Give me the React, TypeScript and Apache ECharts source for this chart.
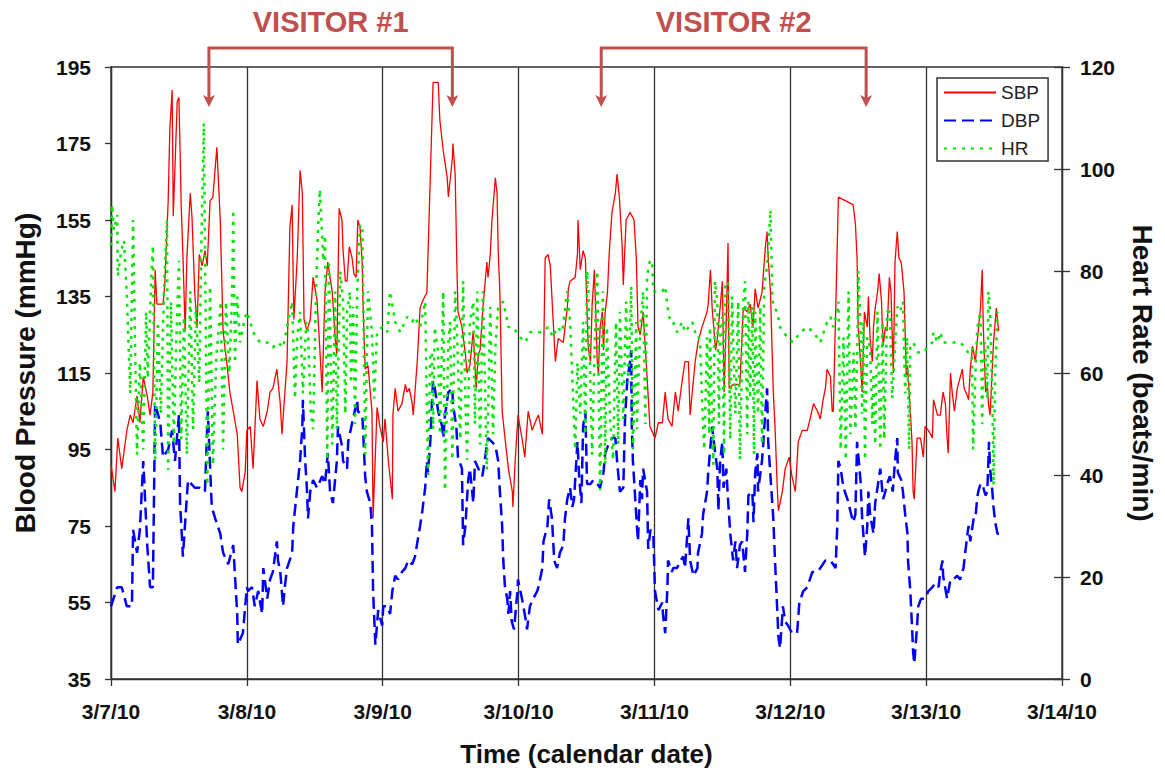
import React, { useEffect, useRef } from "react";
import * as echarts from "echarts";

// Time is in hours since midnight, 3/7/10.
const dateLabels = ["3/7/10", "3/8/10", "3/9/10", "3/10/10", "3/11/10", "3/12/10", "3/13/10", "3/14/10"];
const bpTicks = [35, 55, 75, 95, 115, 135, 155, 175, 195];

const visitors = [
  { label: "VISITOR #1", start: 17.3, end: 60.3 },
  { label: "VISITOR #2", start: 86.6, end: 133.4 },
];

// Systolic blood pressure, mmHg
const sbpData = [
  [0.0,91],[0.7,84],[1.2,98],[1.9,90],[2.8,100],[3.4,104],[3.9,102],[4.6,109],[5.1,102],[5.7,114],[6.4,109],[6.9,104],[7.4,110],[7.8,142],[8.1,133],[9.2,133],[9.5,138],[10.1,160],[10.4,179],[10.8,189],[11.0,156],[11.7,186],[12.0,187],[12.4,159],[12.7,146],[13.1,126],[13.4,145],[14.0,162],[14.3,156],[14.8,136],[15.2,127],[15.6,146],[16.1,143],[16.6,147],[17.0,143],[17.5,160],[18.0,161],[18.7,174],[19.3,155],[19.8,126],[20.5,117],[21.0,110],[21.6,105],[22.3,99],[22.8,85],[23.1,84],[23.7,89],[24.0,100],
  [24.6,101],[25.1,90],[25.8,113],[26.3,103],[26.9,101],[27.6,105],[28.1,110],[28.6,111],[29.3,116],[29.9,107],[30.2,99],[31.1,118],[31.6,153],[32.0,159],[32.3,129],[32.9,145],[33.4,168],[33.8,162],[34.1,129],[34.6,126],[35.2,129],[35.7,140],[36.4,134],[36.9,121],[37.3,110],[37.8,136],[38.3,144],[39.1,136],[39.6,124],[39.9,120],[40.3,158],[40.8,155],[41.0,147],[41.4,139],[41.7,139],[42.1,148],[42.6,145],[42.9,141],[43.3,140],[43.6,155],[44.0,153],[44.4,143],[44.5,134],[44.9,116],[45.4,117],[46.1,105],[46.3,77],[47.0,106],[47.5,101],
  [48.1,97],[48.4,103],[49.0,92],[49.7,82],[49.8,104],[50.2,111],[50.7,105],[51.4,107],[52.0,112],[52.3,110],[52.7,111],[53.2,107],[53.4,104],[54.1,118],[54.6,132],[55.1,134],[55.8,136],[56.0,146],[56.4,166],[56.7,181],[56.9,191],[57.8,191],[58.1,181],[58.7,173],[59.4,166],[59.6,161],[60.3,171],[60.4,175],[60.8,167],[61.1,143],[61.3,131],[62.0,127],[62.6,120],[62.9,115],[63.4,117],[64.0,126],[64.5,111],[64.9,120],[65.2,121],[65.7,132],[66.4,144],[66.6,140],[67.0,146],[67.3,155],[67.9,166],[68.2,162],[68.4,147],[68.7,136],[69.1,105],[69.6,98],[70.2,90],[70.9,84],[71.0,80],[71.4,92],
  [71.9,104],[72.6,98],[73.1,93],[73.7,105],[74.4,100],[74.9,102],[75.5,104],[76.2,99],[76.7,145],[77.2,146],[77.6,143],[78.1,129],[78.5,118],[79.0,124],[79.9,123],[80.6,132],[80.8,137],[81.1,139],[82.0,140],[82.4,146],[82.5,155],[82.9,142],[83.4,147],[83.8,145],[84.3,122],[84.7,118],[85.0,133],[85.4,142],[85.9,118],[86.1,115],[86.4,127],[86.8,131],[87.0,121],[87.3,131],[87.7,136],[88.0,146],[88.5,157],[89.1,162],[89.4,167],[89.8,161],[90.3,148],[90.5,138],[91.0,155],[91.7,157],[92.4,155],[92.8,145],[93.1,127],[93.5,125],[94.0,131],[94.7,114],[95.2,101],
  [96.1,98],[96.7,102],[97.4,102],[97.9,110],[98.4,103],[99.1,101],[99.7,110],[100.2,105],[100.9,113],[101.4,118],[102.0,118],[102.3,104],[103.2,118],[103.7,123],[104.4,127],[105.3,131],[105.5,133],[105.9,142],[106.2,132],[106.8,121],[107.1,124],[107.6,132],[108.0,139],[108.3,110],[108.7,129],[109.0,149],[109.2,111],[109.9,112],[111.1,112],[111.7,132],[112.4,131],[112.9,133],[113.4,127],[113.8,137],[114.3,132],[115.0,136],[115.6,148],[115.9,152],[116.1,145],[116.5,136],[117.0,110],[117.3,101],[117.7,85],[117.9,79],[118.6,84],[119.1,90],[119.8,93],[120.3,88],[120.9,84],[121.4,97],[122.1,100],[123.0,100],[123.5,103],[124.1,107],[124.8,105],[125.3,103],[125.8,108],[126.2,111],[126.5,116],[127.1,114],[127.4,105],[127.6,105],
  [128.5,161],[131.1,159],[131.5,154],[131.8,145],[132.0,127],[132.4,118],[132.7,110],[133.1,131],[133.6,127],[133.8,135],[134.1,124],[134.5,118],[134.7,127],[135.0,132],[135.4,136],[135.7,141],[136.1,134],[136.4,122],[136.8,127],[137.1,126],[137.5,140],[137.8,136],[138.2,115],[138.5,144],[138.9,152],[139.2,145],[139.6,144],[140.1,136],[140.5,114],[140.7,117],[141.2,105],[141.5,97],[141.7,84],[141.9,82],[142.4,98],[143.0,98],[143.5,93],[143.8,101],[144.4,100],[145.1,98],[145.3,108],[146.0,104],[146.5,104],[146.9,109],[147.0,110],[147.4,107],[147.7,98],[147.9,94],[148.3,115],[148.6,110],[149.0,105],[149.5,111],[150.4,116],[150.7,111],[151.3,109],[151.5,108],[151.8,116],[152.2,122],[152.7,118],[153.2,126],[153.6,132],[153.9,142],[154.1,127],[154.5,110],[154.8,112],[155.0,107],[155.3,104],[155.9,123],[156.4,132],[156.8,126],
];

// Diastolic blood pressure, mmHg
const dbpData = [
  [0.0,54],[1.1,59],[1.9,59],[2.8,54],[3.7,54],[3.9,74],[4.6,68],[5.1,74],[5.7,92],[6.4,70],[6.9,59],[7.4,59],[7.8,107],[8.7,102],[9.2,93],[10.1,95],[10.8,100],[11.3,92],[12.0,104],[12.2,81],[12.5,73],[12.7,67],[13.6,87],[14.8,85],[15.7,85],[16.6,84],[17.1,105],[17.8,80],[18.4,77],[19.3,73],[19.8,68],[20.7,65],[21.6,70],[21.9,62],[22.3,52],[22.4,44],[23.3,47],[24.0,59],
  [24.2,58],[24.9,59],[25.4,54],[26.0,58],[26.7,52],[26.9,64],[27.6,56],[28.1,61],[28.6,63],[29.3,71],[29.5,66],[29.9,63],[30.4,54],[30.7,59],[31.1,64],[32.0,68],[32.2,75],[32.9,85],[33.4,92],[33.8,101],[33.9,108],[34.3,92],[34.6,85],[34.8,77],[35.2,84],[35.7,87],[36.4,85],[37.3,88],[37.8,86],[38.3,94],[38.7,84],[39.2,81],[39.9,92],[40.1,101],[40.8,96],[41.0,92],[41.7,90],[41.9,97],[42.6,102],[43.5,108],[43.6,105],[44.4,104],[44.5,101],[44.9,88],[45.2,84],[45.8,81],[46.1,75],[46.3,58],[46.7,44],[47.2,53],[47.9,49],
  [48.1,54],[48.8,54],[49.3,52],[49.7,58],[50.2,62],[50.7,61],[51.4,63],[52.0,64],[52.5,66],[53.2,65],[53.7,67],[54.6,75],[55.0,79],[55.5,85],[55.8,92],[56.0,89],[56.4,97],[56.7,107],[56.9,113],[57.2,111],[57.8,105],[58.5,101],[58.7,98],[59.0,104],[59.6,110],[60.3,111],[60.4,107],[61.0,101],[61.3,93],[62.0,90],[62.2,70],[62.6,75],[63.1,87],[63.4,90],[64.0,81],[64.3,92],[64.9,90],[65.6,88],[66.1,93],[66.6,98],[67.3,97],[67.9,96],[68.4,92],[68.7,84],[69.1,75],[69.3,66],[69.6,59],[70.0,56],[70.2,52],[70.5,58],[70.8,50],[71.2,48],[71.8,58],
  [71.9,61],[72.6,56],[73.2,51],[73.5,48],[74.0,54],[74.6,56],[75.3,58],[75.5,59],[76.2,64],[76.4,71],[77.1,75],[77.4,82],[77.9,77],[78.3,66],[78.8,64],[79.3,68],[79.9,70],[80.2,77],[80.6,82],[81.1,85],[81.5,80],[81.8,82],[82.2,92],[82.4,97],[82.7,88],[83.1,81],[83.4,101],[83.8,105],[84.1,86],[84.7,86],[85.2,87],[85.9,86],[86.4,85],[87.0,89],[87.3,94],[87.8,96],[88.5,98],[89.1,98],[89.4,92],[89.9,84],[90.5,85],[90.8,103],[91.2,113],[91.7,118],[91.9,121],[92.0,101],[92.2,92],[92.9,75],[93.1,71],[93.5,87],[93.8,82],[94.0,90],[94.7,84],[94.9,69],[95.3,74],[95.8,73],
  [96.1,58],[96.7,53],[97.4,55],[97.5,52],[97.9,47],[98.3,59],[98.4,66],[99.1,63],[99.3,64],[100.0,64],[100.6,66],[101.1,67],[101.4,64],[102.0,77],[102.3,66],[102.9,62],[103.6,64],[103.7,68],[104.4,73],[104.6,78],[105.3,84],[105.5,89],[106.2,101],[106.4,98],[107.1,90],[107.3,79],[107.6,92],[108.0,97],[108.2,85],[108.7,90],[109.0,82],[109.4,73],[109.9,66],[110.3,71],[110.6,64],[111.1,70],[111.5,71],[112.0,63],[112.4,73],[112.6,83],[113.3,84],[113.5,76],[113.8,89],[114.2,94],[114.3,84],[115.0,92],[115.2,96],[115.6,105],[115.9,111],[116.1,97],[116.5,88],[117.0,77],[117.3,66],[117.7,53],[117.9,46],[118.2,43],[118.7,54],[119.1,50],[119.6,49],[120.3,47],[121.2,47],[121.6,55],[122.3,58],[123.0,59],[123.9,63],[124.8,63],[125.3,64],[126.2,66],[127.1,66],[128.0,64],[128.3,75],
  [128.5,92],[128.9,90],[129.4,85],[130.1,82],[130.6,79],[131.1,76],[131.5,78],[131.8,97],[132.4,87],[132.7,77],[132.9,73],[133.2,67],[133.6,75],[133.8,84],[134.1,78],[134.7,73],[135.0,81],[135.4,85],[135.9,90],[136.4,82],[136.8,84],[137.1,86],[137.6,88],[138.1,84],[138.5,92],[138.9,98],[139.0,89],[139.6,87],[139.9,84],[140.3,78],[140.7,73],[140.8,66],[141.2,58],[141.5,49],[141.7,42],[141.9,39],[142.4,49],[142.6,54],[143.1,56],[143.8,56],[144.4,58],[145.1,59],[145.6,60],[146.2,59],[146.5,63],[146.9,66],[147.0,62],[147.7,56],[148.3,61],[148.8,61],[149.5,62],[150.0,61],[150.6,64],[150.9,68],[151.3,73],[151.5,75],[151.8,71],[152.4,77],[152.7,77],[153.0,82],[153.2,84],[153.6,86],[153.9,86],[154.1,85],[154.5,83],[154.8,84],[155.0,92],[155.1,97],[155.3,90],[155.7,84],[155.9,80],[156.2,76],[156.6,73],[156.9,73],
];

// Heart rate, beats/min
const hrData = [
  [0.0,85],[0.2,93],[0.5,88],[1.1,91],[1.2,79],[1.8,84],[2.3,86],[2.8,75],[3.4,56],[3.9,90],[4.2,69],[4.6,44],[5.1,62],[5.7,45],[6.2,72],[6.5,59],[7.1,78],[7.4,85],[7.8,43],[8.3,70],[8.8,52],[9.4,78],[9.9,90],[10.1,41],[10.6,74],[11.1,46],[11.5,65],[12.0,82],[12.4,47],[12.9,71],[13.4,44],[14.0,76],[14.5,49],[15.0,73],[15.6,58],[15.9,82],[16.4,109],[17.0,38],[17.5,77],[18.0,42],[18.6,63],[18.9,67],[19.4,74],[19.8,45],[20.3,74],[20.9,60],[21.4,76],[21.6,92],[21.9,62],[22.3,75],[22.8,66],[23.5,70],[24.0,72],
  [24.6,70],[25.1,68],[26.3,66],[27.6,66],[28.6,65],[29.5,66],[30.4,65],[31.1,69],[32.0,74],[32.5,55],[32.9,67],[33.4,72],[33.9,56],[34.5,70],[34.8,68],[35.3,52],[35.7,49],[36.2,75],[36.6,89],[36.9,96],[37.5,82],[37.8,87],[38.2,43],[38.5,82],[39.1,46],[39.6,76],[39.9,49],[40.5,80],[41.0,74],[41.4,52],[41.7,72],[42.2,76],[42.4,58],[42.8,73],[43.1,50],[43.5,76],[44.0,89],[44.4,89],[44.5,81],[44.9,44],[45.4,76],[46.1,68],[46.5,55],[47.0,68],[47.9,69],
  [48.8,68],[49.3,76],[50.2,70],[51.1,68],[52.3,71],[53.2,70],[53.7,71],[54.6,69],[55.5,74],[56.0,40],[56.4,64],[56.7,64],[56.9,49],[57.2,69],[57.8,64],[58.1,48],[58.7,76],[59.0,37],[59.6,66],[59.9,70],[60.3,43],[60.8,76],[61.1,69],[61.7,47],[62.2,78],[62.6,55],[62.9,43],[63.4,70],[64.0,74],[64.3,50],[64.7,76],[65.2,46],[65.7,76],[66.4,41],[67.0,73],[67.5,48],[67.9,65],[68.4,73],[69.3,74],[70.2,69],[71.0,69],
  [72.3,67],[73.2,66],[74.0,68],[75.3,68],[76.3,68],[77.2,69],[78.1,67],[78.8,69],[79.7,68],[80.6,76],[81.1,70],[81.5,59],[82.0,45],[82.4,62],[82.9,52],[83.4,70],[83.8,48],[84.1,80],[84.3,76],[84.6,62],[85.0,44],[85.5,68],[85.9,80],[86.4,37],[86.9,76],[87.3,42],[87.6,69],[88.2,50],[88.7,43],[89.2,70],[89.6,46],[89.9,72],[90.5,51],[91.0,74],[91.4,58],[91.9,77],[92.2,45],[92.8,70],[92.9,49],[93.5,69],[94.0,76],[94.4,50],[94.7,79],[95.2,82],[95.6,82],
  [95.8,76],[96.1,76],[96.7,76],[97.4,76],[97.9,77],[98.3,73],[98.8,70],[99.3,70],[100.0,68],[100.9,70],[101.4,68],[102.7,70],[103.2,68],[103.7,68],[104.1,65],[104.4,55],[104.8,45],[105.3,67],[105.7,48],[105.8,69],[106.4,42],[106.7,78],[107.1,74],[107.4,50],[107.6,69],[108.0,71],[108.3,44],[108.5,77],[109.0,78],[109.4,47],[109.7,75],[110.3,52],[110.8,74],[111.1,43],[111.7,74],[112.0,78],[112.4,48],[112.6,74],[112.9,55],[113.3,73],[113.6,44],[113.8,72],[114.3,52],[114.7,73],[115.0,46],[115.4,77],[115.9,81],[116.5,92],[116.8,76],[117.0,73],[117.7,72],[118.2,69],[119.5,67],
  [120.5,66],[121.8,68],[123.0,69],[124.1,68],[125.3,66],[126.5,70],[127.1,71],[127.6,69],[128.3,72],[128.5,74],[128.9,45],[129.4,67],[129.8,43],[130.3,76],[130.6,48],[131.2,64],[131.5,49],[131.9,68],[132.0,80],[132.4,70],[132.7,52],[132.9,70],[133.2,43],[133.6,67],[134.1,65],[134.5,50],[134.7,60],[135.0,46],[135.4,72],[135.9,45],[136.3,70],[136.6,47],[137.1,72],[137.6,72],[138.0,55],[138.5,65],[138.9,73],[139.4,72],[139.9,74],[140.3,56],[140.6,67],[141.0,45],[141.2,65],
  [141.7,66],[142.6,64],[143.5,64],[144.2,65],[145.1,66],[145.3,68],[146.0,66],[146.5,68],[147.0,66],[147.9,66],[148.8,66],[150.0,66],[150.9,65],[151.4,64],[152.1,65],[152.3,45],[152.7,60],[153.0,68],[153.2,70],[153.6,72],[153.9,50],[154.1,62],[154.4,66],[154.8,55],[155.0,76],[155.3,72],[155.7,55],[155.9,38],[156.2,60],[156.6,72],[156.7,71],
];

const FONT = "'Liberation Sans', Arial, sans-serif";
const INK = "#111";
const FRAME = "#333";
const NOTE = "#c0504d";

export default function App() {
  const ref = useRef<HTMLDivElement>(null);

  useEffect(() => {
    if (!ref.current) return;
    const chart = echarts.init(ref.current, undefined, { renderer: "svg" });

    const option: any = {
      animation: false,
      backgroundColor: "#fff",
      textStyle: { fontFamily: FONT },
      grid: {
        left: 111, right: 103, top: 67, bottom: 97,
        show: true, borderColor: FRAME, borderWidth: 1.3, backgroundColor: "transparent",
      },
      legend: {
        data: ["SBP", "DBP", "HR"],
        orient: "vertical",
        left: 937, top: 78,
        padding: [5, 8, 3, 6],
        itemGap: 9, itemWidth: 52, itemHeight: 14,
        borderColor: FRAME, borderWidth: 1.5,
        backgroundColor: "#fff",
        // line-only keys: hide the marker symbol drawn in the middle
        itemStyle: { opacity: 0, borderWidth: 0 },
        textStyle: { fontFamily: FONT, fontSize: 19, lineHeight: 19, color: "#222" },
      },
      xAxis: {
        type: "value", min: 0, max: 168, interval: 24,
        name: "Time (calendar date)", nameLocation: "middle", nameGap: 62,
        nameTextStyle: { fontFamily: FONT, fontSize: 26, fontWeight: "bold", color: INK },
        axisLine: { show: true, lineStyle: { color: FRAME, width: 1.3 } },
        axisTick: { show: true, length: 7, lineStyle: { color: FRAME, width: 1.3 } },
        axisLabel: {
          margin: 22, fontSize: 21, fontWeight: "bold", color: INK, fontFamily: FONT,
          formatter: (v: number) => dateLabels[Math.round(v / 24)] ?? "",
        },
        splitLine: { show: true, lineStyle: { color: FRAME, width: 1.3 } },
      },
      yAxis: [
        {
          type: "value", min: 35, max: 195, position: "left",
          name: "Blood Pressure (mmHg)", nameLocation: "middle", nameGap: 72,
          nameTextStyle: { fontFamily: FONT, fontSize: 28, fontWeight: "bold", color: INK },
          axisLine: { show: true, lineStyle: { color: FRAME, width: 1.3 } },
          axisTick: { show: true, length: 6, customValues: bpTicks, lineStyle: { color: FRAME, width: 1.3 } },
          axisLabel: { margin: 20, fontSize: 21, fontWeight: "bold", color: INK, fontFamily: FONT, customValues: bpTicks },
          splitLine: { show: false },
        },
        {
          type: "value", min: 0, max: 120, interval: 20, position: "right",
          name: "Heart Rate (beats/min)", nameLocation: "middle", nameGap: 66, nameRotate: -90,
          nameTextStyle: { fontFamily: FONT, fontSize: 28, fontWeight: "bold", color: INK },
          axisLine: { show: true, lineStyle: { color: FRAME, width: 1.3 } },
          axisTick: { show: true, length: 8, lineStyle: { color: FRAME, width: 1.3 } },
          axisLabel: { margin: 18, fontSize: 21, fontWeight: "bold", color: INK, fontFamily: FONT },
          splitLine: { show: false },
        },
        {
          // inner half of the heart-rate ticks
          type: "value", min: 0, max: 120, interval: 20, position: "right",
          axisLine: { show: false },
          axisTick: { show: true, inside: true, length: 8, lineStyle: { color: FRAME, width: 1.3 } },
          axisLabel: { show: false },
          splitLine: { show: false },
        },
      ],
      series: [
        {
          name: "SBP", type: "line", yAxisIndex: 0, data: sbpData,
          symbol: "none", showSymbol: false,
          lineStyle: { color: "#ff0000", width: 1.3 }, itemStyle: { color: "#ff0000" },
          z: 2,
        },
        {
          name: "DBP", type: "line", yAxisIndex: 0, data: dbpData,
          symbol: "none", showSymbol: false,
          lineStyle: { color: "#0000ff", width: 2.5, type: [12, 6] }, itemStyle: { color: "#0000ff" },
          z: 3,
        },
        {
          name: "HR", type: "line", yAxisIndex: 1, data: hrData,
          symbol: "none", showSymbol: false,
          lineStyle: { color: "#00e600", width: 2.5, type: [3, 6] }, itemStyle: { color: "#00e600" },
          z: 4,
        },
      ],
    };

    chart.setOption(option);

    // Visitor brackets: placed from the visit times through the x axis scale
    const barY = 48;
    const tipY = 107;
    const graphic: any[] = [];
    visitors.forEach((v) => {
      const x1 = chart.convertToPixel({ xAxisIndex: 0 }, v.start) as number;
      const x2 = chart.convertToPixel({ xAxisIndex: 0 }, v.end) as number;
      graphic.push({
        type: "polyline",
        shape: { points: [[x1, tipY - 8], [x1, barY], [x2, barY], [x2, tipY - 8]] },
        style: { stroke: NOTE, lineWidth: 3, fill: null },
      });
      [x1, x2].forEach((x) => {
        graphic.push({
          type: "polygon",
          shape: { points: [[x - 6, tipY - 12], [x, tipY - 9], [x + 6, tipY - 12], [x, tipY]] },
          style: { fill: NOTE },
        });
      });
      graphic.push({
        type: "text",
        x: (x1 + x2) / 2, y: 22,
        style: {
          text: v.label, fill: NOTE, font: `bold 29px ${FONT}`,
          align: "center", verticalAlign: "middle",
        },
      });
    });
    chart.setOption({ graphic });

    return () => chart.dispose();
  }, []);

  return <div ref={ref} style={{ position: "absolute", left: 0, top: 0, width: 1165, height: 776 }} />;
}
